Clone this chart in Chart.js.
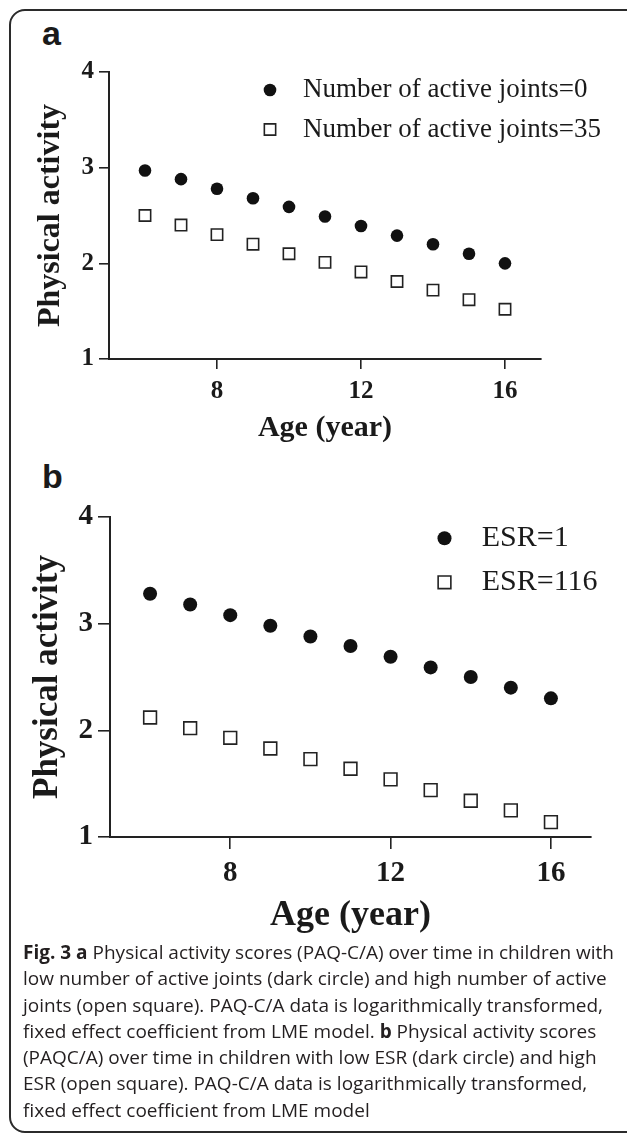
<!DOCTYPE html>
<html>
<head>
<meta charset="utf-8">
<script src="https://cdn.jsdelivr.net/npm/chart.js@4.4.1/dist/chart.umd.min.js"></script>
<style>
  html, body { margin: 0; padding: 0; background: #fff; }
  body { width: 627px; height: 1134px; position: relative; overflow: hidden; }
  .frame {
    position: absolute; left: 9px; top: 9px; width: 650px; height: 1124px;
    border: 2px solid #2b2b2b; border-radius: 16px; box-sizing: border-box;
  }
  .panel-tag {
    position: absolute; left: 42px; font-family: "Liberation Sans", Arial, sans-serif;
    font-weight: bold; font-size: 34px; line-height: 1; color: #1a1a1a;
  }
  canvas { position: absolute; left: 0; }
  .caption {
    position: absolute; left: 23px; top: 939px; font-family: "Open Sans", sans-serif;
    font-size: 19px; line-height: 26.3px; color: #231f20; white-space: nowrap;
  }
  .caption b { font-weight: 700; }
</style>
</head>
<body>
<div class="frame"></div>
<div class="panel-tag" style="top:16px">a</div>
<div class="panel-tag" style="top:459px">b</div>
<canvas id="chartA" width="627" height="460" style="top:0"></canvas>
<canvas id="chartB" width="627" height="500" style="top:440px"></canvas>
<div class="caption">
  <div><b>Fig. 3 a</b> Physical activity scores (PAQ-C/A) over time in children with</div>
  <div>low number of active joints (dark circle) and high number of active</div>
  <div>joints (open square). PAQ-C/A data is logarithmically transformed,</div>
  <div>fixed effect coefficient from LME model. <b>b</b> Physical activity scores</div>
  <div>(PAQC/A) over time in children with low ESR (dark circle) and high</div>
  <div>ESR (open square). PAQ-C/A data is logarithmically transformed,</div>
  <div>fixed effect coefficient from LME model</div>
</div>
<script>
// age in years (x) shared by both panels
const ages = [6, 7, 8, 9, 10, 11, 12, 13, 14, 15, 16];
// panel a: number of active joints
const activityJoints0 = [2.97, 2.88, 2.78, 2.68, 2.59, 2.49, 2.39, 2.29, 2.20, 2.10, 2.00];
const activityJoints35 = [2.50, 2.40, 2.30, 2.20, 2.10, 2.01, 1.91, 1.81, 1.72, 1.62, 1.52];
// panel b: ESR
const activityEsr1 = [3.28, 3.18, 3.08, 2.98, 2.88, 2.79, 2.69, 2.59, 2.50, 2.40, 2.30];
const activityEsr116 = [2.12, 2.02, 1.93, 1.83, 1.73, 1.64, 1.54, 1.44, 1.34, 1.25, 1.14];

const xTicks = [8, 12, 16];
const yTicks = [1, 2, 3, 4];
const labelsA = ['Number of active joints=0', 'Number of active joints=35'];
const labelsB = ['ESR=1', 'ESR=116'];
const xTitle = 'Age (year)';
const yTitle = 'Physical activity';

const ink = '#1a1a1a';
const serif = '"Liberation Serif", "Times New Roman", serif';

// draws the little legend inside the plot, using each dataset's own marker style
const markerLegend = {
  id: 'markerLegend',
  afterDatasetsDraw(chart, args, opts) {
    const ctx = chart.ctx;
    ctx.save();
    chart.data.datasets.forEach((ds, i) => {
      const y = opts.y + i * opts.gap;
      ctx.fillStyle = ds.backgroundColor;
      ctx.strokeStyle = ds.borderColor;
      ctx.lineWidth = ds.borderWidth;
      Chart.helpers.drawPoint(ctx, {
        pointStyle: ds.pointStyle, radius: ds.pointRadius, rotation: 0, borderWidth: ds.borderWidth
      }, opts.x, y);
      ctx.fillStyle = ink;
      ctx.font = opts.fontSize + 'px ' + serif;
      ctx.textBaseline = 'middle';
      ctx.textAlign = 'left';
      ctx.fillText(ds.label, opts.textX, y);
    });
    ctx.restore();
  }
};

function toPoints(values) {
  return ages.map((a, i) => ({x: a, y: values[i]}));
}

function makePanel(id, p) {
  return new Chart(document.getElementById(id), {
    type: 'scatter',
    data: {
      datasets: [
        {
          label: p.labels[0], data: toPoints(p.dark),
          pointStyle: 'circle', pointRadius: p.dot, pointHoverRadius: p.dot,
          backgroundColor: '#111', borderColor: '#111', borderWidth: 0
        },
        {
          label: p.labels[1], data: toPoints(p.open),
          pointStyle: 'rect', pointRadius: p.box, pointHoverRadius: p.box,
          backgroundColor: '#fff', borderColor: '#222', borderWidth: 1.6
        }
      ]
    },
    options: {
      responsive: false,
      animation: false,
      layout: {padding: {top: p.top, right: p.right, left: 0, bottom: 0}},
      plugins: {
        legend: {display: false},
        tooltip: {enabled: false},
        markerLegend: p.legend
      },
      scales: {
        x: {
          type: 'linear', min: 5, max: 17,
          afterBuildTicks: s => { s.ticks = xTicks.map(v => ({value: v})); },
          afterFit: s => { s.height = p.xh; },
          border: {display: true, color: '#222', width: 2},
          grid: {drawOnChartArea: false, drawTicks: true, tickLength: p.tick, color: '#222', lineWidth: 1.6},
          ticks: {color: ink, padding: p.xpad, maxRotation: 0, font: {family: serif, size: p.tickFont, weight: 'bold'}},
          title: {display: true, text: xTitle, color: ink, padding: {top: 0, bottom: p.xtPad},
                  font: {family: serif, size: p.xtFont, weight: 'bold'}}
        },
        y: {
          type: 'linear', min: 1, max: 4,
          afterBuildTicks: s => { s.ticks = yTicks.map(v => ({value: v})); },
          afterFit: s => { s.width = p.yw; },
          border: {display: true, color: '#222', width: 2},
          grid: {drawOnChartArea: false, drawTicks: true, tickLength: p.tick, color: '#222', lineWidth: 1.6},
          ticks: {color: ink, padding: p.ypad, font: {family: serif, size: p.tickFont, weight: 'bold'}},
          title: {display: true, text: yTitle, color: ink, padding: {top: p.ytPad, bottom: 0},
                  font: {family: serif, size: p.ytFont, weight: 'bold'}}
        }
      }
    },
    plugins: [markerLegend]
  });
}

makePanel('chartA', {
  labels: labelsA, dark: activityJoints0, open: activityJoints35,
  dot: 6.3, box: 8,
  top: 72, right: 86, yw: 109, xh: 101,
  tick: 10, xpad: 8, ypad: 5, tickFont: 25,
  xtFont: 30, xtPad: 14, ytFont: 32, ytPad: 32,
  legend: {x: 270, y: 90, gap: 39.5, textX: 303, fontSize: 27}
});

makePanel('chartB', {
  labels: labelsB, dark: activityEsr1, open: activityEsr116,
  dot: 7, box: 9,
  top: 77, right: 36, yw: 110, xh: 103,
  tick: 12, xpad: 7, ypad: 5, tickFont: 29,
  xtFont: 36, xtPad: 3, ytFont: 35, ytPad: 27,
  legend: {x: 444.5, y: 98.3, gap: 44, textX: 481.7, fontSize: 30}
});
</script>
</body>
</html>
